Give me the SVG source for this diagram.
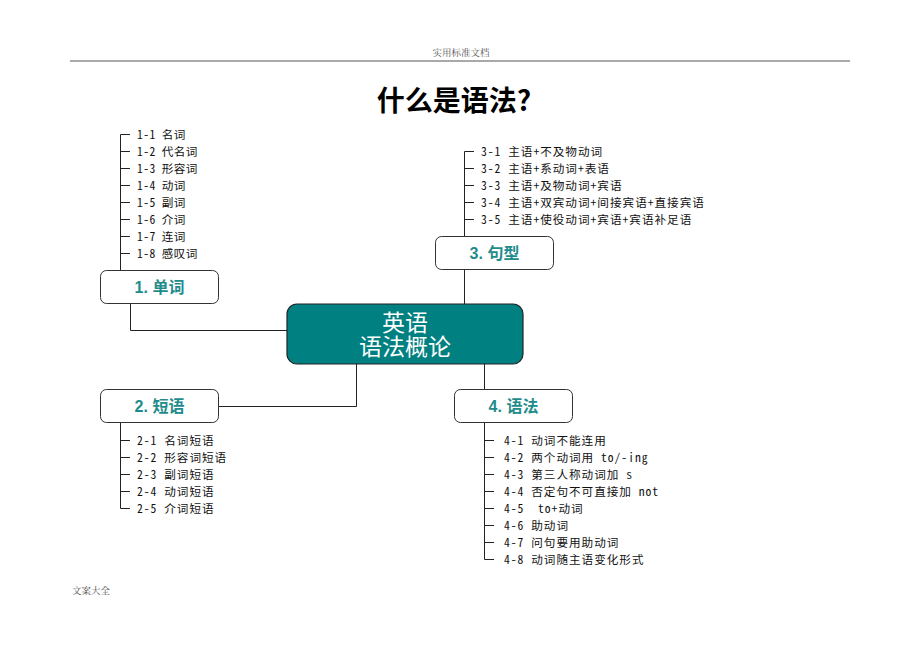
<svg xmlns="http://www.w3.org/2000/svg" width="920" height="651" viewBox="0 0 920 651">
<style>
.hdr{font-family:"Liberation Serif","Noto Serif CJK SC","Noto Sans CJK SC",serif;font-size:9.5px;fill:#555}
.title{font-family:"Noto Sans CJK SC",sans-serif;font-size:28px;font-weight:bold;fill:#000}
.leaf{font-family:"Noto Sans Mono CJK SC","Noto Sans CJK SC",monospace;font-size:11.6px;letter-spacing:1px;fill:#111}
.leaf.s{letter-spacing:0.4px}
.box{fill:#fff;stroke:#333;stroke-width:1}
.blabel{font-family:"Liberation Sans","Noto Sans CJK SC",sans-serif;font-size:16px;font-weight:bold;fill:#1f8c8c}
.center{fill:#008080;stroke:#222;stroke-width:1.2}
.ctext{font-family:"Liberation Sans","Noto Sans CJK SC",sans-serif;font-size:23px;fill:#fff}
.ln{fill:none;stroke:#222;stroke-width:1}
</style>
<rect width="920" height="651" fill="#fff"/>
<text class="hdr" x="461" y="56" text-anchor="middle">实用标准文档</text>
<line x1="70" y1="61" x2="850" y2="61" stroke="#555" stroke-width="1.2"/>
<text class="hdr" x="72" y="594">文案大全</text>
<text class="title" x="454" y="111" text-anchor="middle">什么是语法?</text>

<g id="connectors">
<path class="ln" d="M130.5 303V330.5H287"/>
<path class="ln" d="M464.5 270V304"/>
<path class="ln" d="M218 406.5H356.5V364"/>
<path class="ln" d="M484.5 364V390"/>
<path class="ln" d="M130 134.5H120.5V270"/>
<path class="ln" d="M120 151.5H130M120 168.5H130M120 185.5H130M120 202.5H130M120 219.5H130M120 236.5H130M120 253.5H130"/>
<path class="ln" d="M474 151.5H464.5V236"/>
<path class="ln" d="M464 168.5H474M464 185.5H474M464 202.5H474M464 219.5H474"/>
<path class="ln" d="M120.5 423V508.5H130"/>
<path class="ln" d="M120 440.5H130M120 457.5H130M120 474.5H130M120 491.5H130"/>
<path class="ln" d="M484.5 423V559.5H494"/>
<path class="ln" d="M484 440.5H494M484 457.5H494M484 474.5H494M484 491.5H494M484 508.5H494M484 525.5H494M484 542.5H494"/>
</g>

<g id="center">
<rect class="center" x="287" y="304" width="236" height="60" rx="10"/>
<text class="ctext" x="405" y="331" text-anchor="middle">英语</text>
<text class="ctext" x="405" y="355" text-anchor="middle">语法概论</text>
</g>

<g id="node1">
<rect class="box" x="100.5" y="270.5" width="118" height="33" rx="6"/>
<text class="blabel" x="159.5" y="293" text-anchor="middle">1. 单词</text>
</g>
<g id="node3">
<rect class="box" x="435.5" y="236.5" width="118" height="33" rx="6"/>
<text class="blabel" x="494.5" y="259" text-anchor="middle">3. 句型</text>
</g>
<g id="node2">
<rect class="box" x="100.5" y="389.5" width="118" height="33" rx="6"/>
<text class="blabel" x="159.5" y="412" text-anchor="middle">2. 短语</text>
</g>
<g id="node4">
<rect class="box" x="454.5" y="389.5" width="118" height="33" rx="6"/>
<text class="blabel" x="513.5" y="412" text-anchor="middle">4. 语法</text>
</g>

<g id="leaves1">
<text class="leaf s" x="137" y="138.5">1-1 名词</text>
<text class="leaf s" x="137" y="155.5">1-2 代名词</text>
<text class="leaf s" x="137" y="172.5">1-3 形容词</text>
<text class="leaf s" x="137" y="189.5">1-4 动词</text>
<text class="leaf s" x="137" y="206.5">1-5 副词</text>
<text class="leaf s" x="137" y="223.5">1-6 介词</text>
<text class="leaf s" x="137" y="240.5">1-7 连词</text>
<text class="leaf s" x="137" y="257.5">1-8 感叹词</text>
</g>
<g id="leaves3">
<text class="leaf" x="481" y="155.5">3-1 主语+不及物动词</text>
<text class="leaf" x="481" y="172.5">3-2 主语+系动词+表语</text>
<text class="leaf" x="481" y="189.5">3-3 主语+及物动词+宾语</text>
<text class="leaf" x="481" y="206.5">3-4 主语+双宾动词+间接宾语+直接宾语</text>
<text class="leaf" x="481" y="223.5">3-5 主语+使役动词+宾语+宾语补足语</text>
</g>
<g id="leaves2">
<text class="leaf" x="137" y="444.5">2-1 名词短语</text>
<text class="leaf" x="137" y="461.5">2-2 形容词短语</text>
<text class="leaf" x="137" y="478.5">2-3 副词短语</text>
<text class="leaf" x="137" y="495.5">2-4 动词短语</text>
<text class="leaf" x="137" y="512.5">2-5 介词短语</text>
</g>
<g id="leaves4">
<text class="leaf" x="504" y="444.5">4-1 动词不能连用</text>
<text class="leaf" x="504" y="461.5">4-2 两个动词用 to/-ing</text>
<text class="leaf" x="504" y="478.5">4-3 第三人称动词加 s</text>
<text class="leaf" x="504" y="495.5">4-4 否定句不可直接加 not</text>
<text class="leaf" x="504" y="512.5" xml:space="preserve">4-5  to+动词</text>
<text class="leaf" x="504" y="529.5">4-6 助动词</text>
<text class="leaf" x="504" y="546.5">4-7 问句要用助动词</text>
<text class="leaf" x="504" y="563.5">4-8 动词随主语变化形式</text>
</g>
</svg>
